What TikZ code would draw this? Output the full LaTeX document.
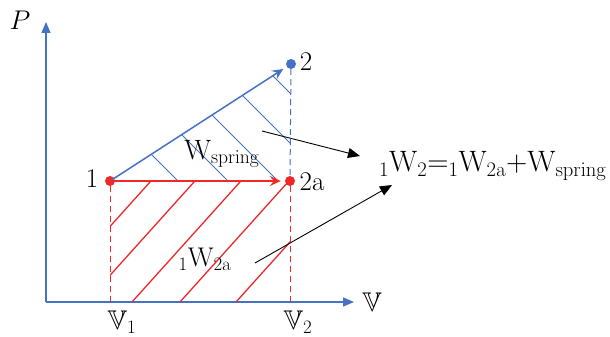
\documentclass[tikz,border=0pt]{standalone}
\usepackage{fix-cm}
\usepackage{amssymb}
\usetikzlibrary{arrows.meta}
\definecolor{oblue}{RGB}{68,114,196}
\definecolor{ored}{RGB}{240,40,40}
\tikzset{
  axis/.style={oblue, line width=1.3pt, -{Triangle[length=11pt,width=9pt]}},
  dot/.style={circle, fill=#1, inner sep=0pt, minimum size=10pt},
  lbl/.style={font=\fontsize{27}{32}\selectfont, inner sep=1pt},
  proc/.style={line width=1.5pt, -{Stealth[length=11pt,width=10pt,inset=4pt]}, shorten >=4pt},
  hatchb/.style={oblue, line width=0.8pt},
  hatchr/.style={ored, line width=1.3pt},
  guide/.style={dashed, line width=1pt, dash pattern=on 6pt off 4pt},
  pointer/.style={black, line width=0.9pt, -{Triangle[length=12pt,width=10pt]}},
}
\begin{document}
\begin{tikzpicture}[x=1pt,y=-1pt]
\useasboundingbox (0,0) rectangle (610,337);
% axes
\coordinate (O) at (46,302);
\coordinate (Ptop) at (46,22);
\coordinate (Vend) at (354,302);
\draw[axis] (O) -- (Ptop);
\draw[axis] (O) -- (Vend);
\node[lbl] (Plab) at (20,20) {$P$};
\node[lbl] (Vlab) at (372,302) {$\mathbb{V}$};
% points
\node[dot=ored] (p1) at (110,181) {};
\node[dot=ored] (p2a) at (290,181) {};
\node[dot=oblue] (p2) at (291,64) {};
\coordinate (v1) at (110,302);
\coordinate (v2) at (290,302);
% hatches
\begin{scope}
\clip (110,181) -- (291,64) -- (290,181) -- cycle;
\foreach \c in {-3,47,97,147,197} {
  \draw[hatchb] (\c+40,40) -- (\c+200,200);
}
\end{scope}
\begin{scope}
\clip (110,181) rectangle (290,302);
\foreach \b in {42,86,132,180,236} {
  \draw[hatchr] (\b,302) -- (\b+0.9*140,162);
}
\end{scope}
% dashed guides
\draw[guide, oblue] (p2) -- (p2a);
\draw[guide, ored] (p1) -- (v1);
\draw[guide, ored] (p2a) -- (v2);
% processes
\draw[proc, oblue] (p1.center) -- (p2);
\draw[proc, ored] (p1.center) -- (p2a);
% labels
\node[lbl] (l1) at (92,179) {1};
\node[lbl] (l2) at (306,62) {2};
\node[lbl] (l2a) at (312,182) {2a};
\node[lbl] (v1l) at (122,322) {$\mathbb{V}_1$};
\node[lbl] (v2l) at (298,322) {$\mathbb{V}_2$};
\node[lbl, font=\fontsize{28}{32}\selectfont] (ws) at (222,154) {W$_{\mathrm{spring}}$};
\node[lbl] (w2a) at (205,259) {${}_{1}\mathrm{W}_{2\mathrm{a}}$};
\node[lbl, font=\fontsize{29.5}{34}\selectfont] (eq) at (493,166) {${}_{1}\mathrm{W}_{2}{=}{}_{1}\mathrm{W}_{2\mathrm{a}}{+}\mathrm{W}_{\mathrm{spring}}$};
% pointers
\coordinate (s1) at (262,131);
\coordinate (s2) at (255,263);
\draw[pointer] (s1) -- (360,156);
\draw[pointer] (s2) -- (392,185);
\end{tikzpicture}
\end{document}
